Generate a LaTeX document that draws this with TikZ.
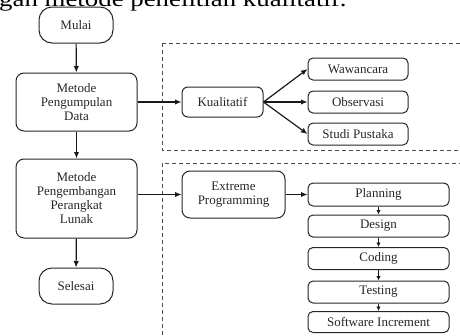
\documentclass[tikz,border=0pt]{standalone}
\usepackage{fontspec}
\setmainfont{Liberation Serif}
\usetikzlibrary{arrows.meta}
\begin{document}
\begin{tikzpicture}[x=1pt,y=-1pt,
  box/.style={draw=black!85, line width=1pt, rounded corners=8pt, align=center, inner sep=0pt, font=\fontsize{13}{14}\selectfont, text=black!85},
  term/.style={box, rounded corners=13pt, minimum width=74pt, minimum height=36pt},
  bigbox/.style={box, minimum width=121pt},
  stepbox/.style={box, rounded corners=5pt, minimum width=100pt, minimum height=22pt},
  xpbox/.style={box, rounded corners=5pt, minimum width=141pt, minimum height=22pt},
  arr/.style={line width=1.2pt, black!90, -{Latex[length=6.5pt,width=5.5pt]}},
  sarr/.style={line width=1pt, black!90, -{Latex[length=4.5pt,width=4.5pt]}},
  dbox/.style={draw=black!70, line width=1pt, dash pattern=on 4pt off 3pt}
]
\begin{scope}
\clip (0,0) rectangle (460,335);
\node[anchor=base west, inner sep=0pt, font=\fontsize{22}{26}\selectfont] (top) at (-1,6) {\scalebox{1.22}[1]{gan metode penelitian kualitatif.}};
\draw[dbox] (162,43) -- (470,43);
\draw[dbox] (162,43) -- (162,150) -- (470,150);
\draw[dbox] (470,163) -- (162,163) -- (162,345);
\end{scope}

\node[term] (mulai) at (76,25) {Mulai};
\node[bigbox, minimum height=58pt] (mpd) at (76.5,102) {Metode\\Pengumpulan\\Data};
\node[bigbox, minimum height=79pt] (mppl) at (76.5,198.5) {Metode\\Pengembangan\\Perangkat\\Lunak};
\node[term] (selesai) at (76,286) {Selesai};

\node[box, rounded corners=6pt, minimum width=81pt, minimum height=30pt] (kual) at (222.5,102) {Kualitatif};
\node[stepbox] (waw) at (358,69) {Wawancara};
\node[stepbox] (obs) at (358,102) {Observasi};
\node[stepbox] (stu) at (358,134) {Studi Pustaka};

\node[box, minimum width=103pt, minimum height=47pt] (xp) at (233.5,194.5) {Extreme\\Programming};
\node[xpbox, minimum height=23pt] (plan) at (378.5,194.5) {Planning};
\node[xpbox] (des) at (378.5,226) {Design};
\node[xpbox] (cod) at (378.5,258.5) {Coding};
\node[xpbox] (tes) at (378.5,292) {Testing};
\node[xpbox, minimum height=21pt] (si) at (378.5,322) {Software Increment};

\draw[arr] (mulai) -- (mpd);
\draw[arr] (mpd) -- (mppl);
\draw[arr] (mppl) -- (selesai);
\draw[arr] (mpd) -- (kual);
\draw[arr] (mppl.east |- xp.west) -- (xp.west);
\draw[arr] (kual.east) -- (waw.west);
\draw[arr] (kual.east) -- (obs.west);
\draw[arr] (kual.east) -- (stu.west);
\draw[arr] (xp.east) -- (plan.west);
\draw[sarr] (plan) -- (des);
\draw[sarr] (des) -- (cod);
\draw[sarr] (cod) -- (tes);
\draw[sarr] (tes) -- (si);
\pgfresetboundingbox
\useasboundingbox (0,0) rectangle (460,335);
\end{tikzpicture}
\end{document}
